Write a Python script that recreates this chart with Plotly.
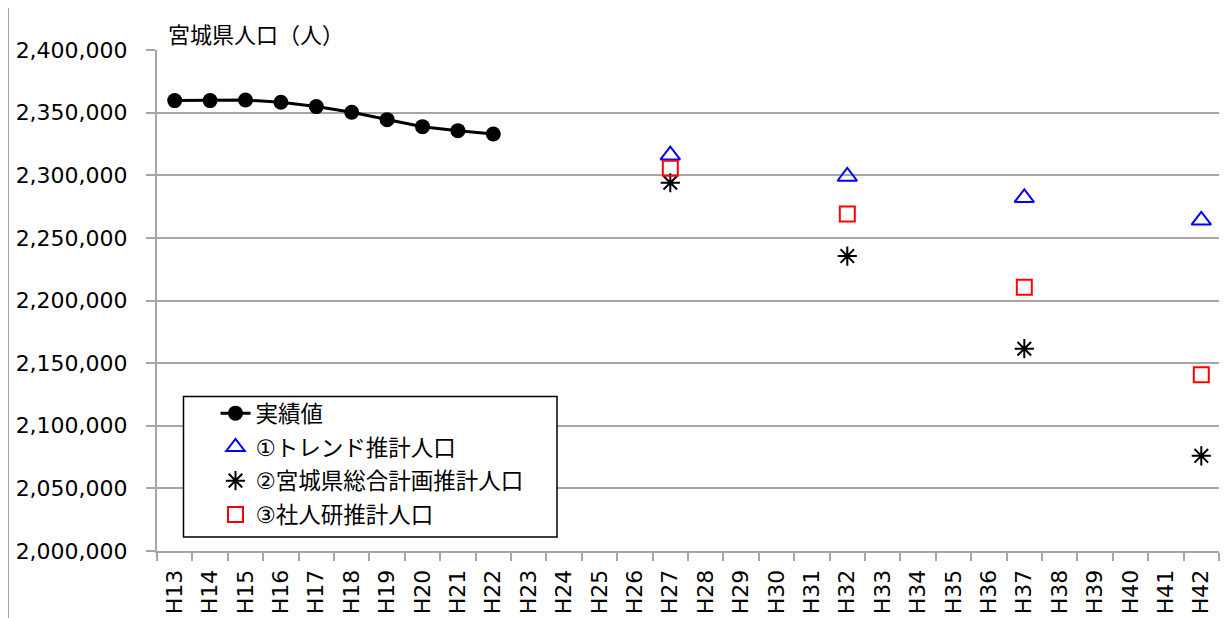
import plotly.graph_objects as go

categories = [f"H{n}" for n in range(13, 43)]

actual_years = [f"H{n}" for n in range(13, 23)]
actual_values = [2359600, 2359600, 2360100, 2358300, 2354800,
                 2350300, 2344400, 2338800, 2335600, 2332900]

proj_years = ["H27", "H32", "H37", "H42"]
trend_values = [2316000, 2299000, 2282000, 2264000]
plan_values = [2294000, 2235500, 2161500, 2076000]
ipss_values = [2305500, 2269000, 2210500, 2140800]

series_names = ["実績値", "①トレンド推計人口", "②宮城県総合計画推計人口", "③社人研推計人口"]
y_title = "宮城県人口（人）"

FONT = "DejaVu Sans, Noto Sans CJK JP, sans-serif"
GRID = "#a6a6a6"

OFF = 8  # default page body margin
W, H = 1229 - OFF, 618 - OFF
# plot area in page coordinates: x 157..1219, y 50..551
L = 157 - OFF
R = W - (1219 - OFF)
T = 50 - OFF
B = H - (551 - OFF)
pw, ph = W - L - R, H - T - B

def px_x(x):
    return (x - OFF - L) / pw

def px_y(y):
    return (H - B - (y - OFF)) / ph

fig = go.Figure()
fig.add_trace(go.Scatter(
    x=actual_years, y=actual_values, name=series_names[0], mode="lines+markers",
    line=dict(color="black", width=3),
    marker=dict(symbol="circle", size=15, color="black"),
    legendgroup="a"))
fig.add_trace(go.Scatter(
    x=proj_years, y=trend_values, name=series_names[1], mode="markers",
    marker=dict(symbol="triangle-up-open", size=17, color="#0000ff", line=dict(width=2, color="#0000ff")),
    legendgroup="b"))
fig.add_trace(go.Scatter(
    x=proj_years, y=plan_values, name=series_names[2], mode="markers",
    marker=dict(symbol="asterisk-open", size=16, color="black", line=dict(width=2, color="black")),
    legendgroup="c"))
fig.add_trace(go.Scatter(
    x=proj_years, y=ipss_values, name=series_names[3], mode="markers",
    marker=dict(symbol="square-open", size=15, color="#ff0000", line=dict(width=2, color="#ff0000")),
    legendgroup="d"))

fig.update_layout(
    width=W, height=H,
    margin=dict(l=L, r=R, t=T, b=B, autoexpand=False),
    paper_bgcolor="white", plot_bgcolor="white",
    font=dict(family=FONT, color="black"),
    showlegend=True,
    legend=dict(
        x=px_x(215.5), y=px_y(392), xanchor="left", yanchor="top",
        bgcolor="rgba(0,0,0,0)", borderwidth=0,
        font=dict(family=FONT, size=22.5, color="black"),
        tracegroupgap=1.5, traceorder="grouped",
    ),
    xaxis=dict(
        type="category", categoryorder="array", categoryarray=categories,
        range=[-0.5, len(categories) - 0.5],
        showgrid=False, showline=True, linecolor=GRID, linewidth=2,
        ticks="outside", tickson="boundaries", ticklen=8, tickcolor=GRID, tickwidth=2,
        tickangle=-90, tickfont=dict(family=FONT, size=22, color="black"),
        ticklabelstandoff=8, zeroline=False,
    ),
    yaxis=dict(
        range=[2000000, 2400000], dtick=50000, tickformat=",",
        showgrid=True, gridcolor=GRID, gridwidth=2,
        showline=True, linecolor=GRID, linewidth=2,
        ticks="outside", ticklen=9, tickcolor=GRID, tickwidth=2,
        tickfont=dict(family=FONT, size=22, color="black"),
        ticklabelstandoff=14, zeroline=False,
    ),
    shapes=[
        dict(type="rect", xref="paper", yref="paper",
             x0=px_x(183.5), x1=px_x(557), y0=px_y(537), y1=px_y(396.5),
             fillcolor="white", line=dict(color="black", width=1.5), layer="above"),
        dict(type="line", xref="paper", yref="paper",
             x0=px_x(8), x1=px_x(8), y0=px_y(618), y1=px_y(0),
             line=dict(color=GRID, width=2)),
    ],
    annotations=[
        dict(text=y_title, xref="paper", yref="paper", x=px_x(166), y=px_y(36),
             xanchor="left", yanchor="middle", showarrow=False,
             font=dict(family=FONT, size=22, color="black")),
    ],
)

fig.write_html("out.html")
